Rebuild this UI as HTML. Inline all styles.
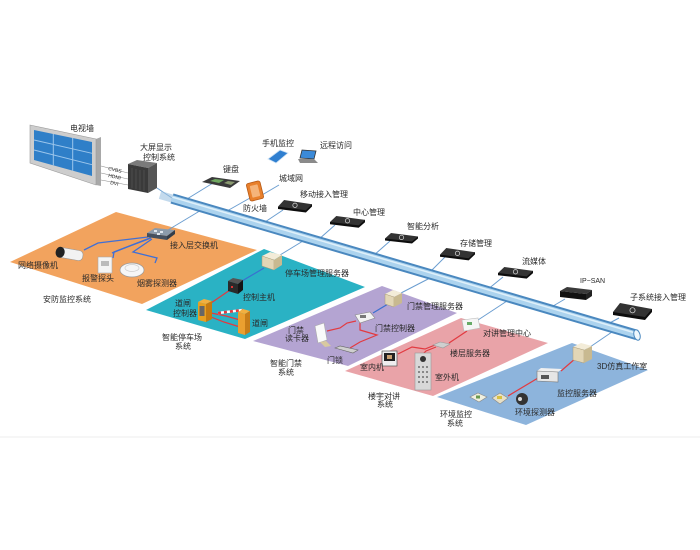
<!DOCTYPE html>
<html><head><meta charset="utf-8"><style>
html,body{margin:0;padding:0;background:#fff;}
svg{display:block;}
text{font-family:"Liberation Sans","Noto Sans CJK SC",sans-serif;font-size:8px;fill:#2a2a2a;}
</style></head><body>
<svg width="700" height="550" viewBox="0 0 700 550" xmlns="http://www.w3.org/2000/svg">
<rect width="700" height="550" fill="#fff"/>
<line x1="0" y1="437" x2="700" y2="437" stroke="#ececec" stroke-width="1"/>

<!-- regions -->
<polygon points="116,212 257,250 142,304 10,262" fill="#f2a35e"/>
<polygon points="264,249 365,287 245,339 146,310" fill="#2ab2c4"/>
<polygon points="382,286 457,313 348,366 253,341" fill="#b4a4d2"/>
<polygon points="461,318 548,343 433,396 345,371" fill="#e9a3a8"/>
<polygon points="572,343 648,370 526,425 437,397" fill="#8db4dc"/>

<!-- thin blue device lines -->
<g stroke="#6a9dd0" stroke-width="1" fill="none">
<line x1="213" y1="183" x2="187" y2="199"/>
<line x1="279" y1="185" x2="262" y2="195"/>
<line x1="250" y1="198" x2="227" y2="211"/>
<line x1="168" y1="230" x2="203" y2="209"/>
<line x1="283" y1="210" x2="262" y2="224"/>
<line x1="335" y1="225" x2="318" y2="240"/>
<line x1="390" y1="241" x2="373" y2="256"/>
<line x1="445" y1="257" x2="430" y2="272"/>
<line x1="503" y1="277" x2="487" y2="290"/>
<line x1="565" y1="299" x2="548" y2="309"/>
<line x1="619" y1="318" x2="604" y2="326"/>
<line x1="280" y1="255" x2="303" y2="241"/>
<line x1="401" y1="293" x2="430" y2="278"/>
<line x1="478" y1="320" x2="507" y2="301"/>
<line x1="590" y1="347" x2="612" y2="332"/>
<line x1="157" y1="188" x2="172" y2="198"/>
</g>

<!-- pipe -->
<line x1="172" y1="198.5" x2="637" y2="335" stroke="#4a88bf" stroke-width="10.5"/>
<line x1="172" y1="198.5" x2="637" y2="335" stroke="#acd3ee" stroke-width="6.5"/>
<line x1="172" y1="197" x2="637" y2="333.5" stroke="#dff0fa" stroke-width="1.5"/>
<ellipse cx="637" cy="335" rx="3" ry="5.4" transform="rotate(-16 637 335)" fill="#eef7fc" stroke="#4a88bf" stroke-width="1"/>
<line x1="160" y1="195" x2="172" y2="198.5" stroke="#9cc3e2" stroke-width="8" opacity="0.6"/>

<!-- TV wall -->
<polygon points="96,139 101,137 101,186 96,185" fill="#a8a8a8"/>
<polygon points="30,125 96,139 96,185 30,163" fill="#cdcdcd" stroke="#9a9a9a" stroke-width="0.6"/>
<polygon points="34,130 92,142 92,176 34,160" fill="#2f7fc8"/>
<g stroke="#9cc6ec" stroke-width="1">
<line x1="53.3" y1="134" x2="53.3" y2="165.3"/>
<line x1="72.7" y1="138" x2="72.7" y2="170.7"/>
<line x1="34" y1="140" x2="92" y2="153.3"/>
<line x1="34" y1="150" x2="92" y2="164.7"/>
</g>
<!-- video lines -->
<g stroke="#888" stroke-width="0.6">
<line x1="101" y1="166" x2="128" y2="173"/>
<line x1="101" y1="173" x2="128" y2="179"/>
<line x1="101" y1="180" x2="128" y2="185"/>
</g>
<text x="108" y="170" style="font-size:5px" transform="rotate(12 108 170)">CVBS</text>
<text x="108" y="177" style="font-size:5px" transform="rotate(12 108 177)">HDMI</text>
<text x="110" y="184" style="font-size:5px" transform="rotate(12 110 184)">DVI</text>
<!-- control box -->
<polygon points="128,164 137,160 157,163 148,168" fill="#7a7a7a"/>
<polygon points="128,164 148,168 148,193 128,189" fill="#3a3a3a"/>
<polygon points="148,168 157,163 157,188 148,193" fill="#555"/>
<g stroke="#5a5a5a" stroke-width="0.6">
<line x1="132" y1="168" x2="132" y2="188"/><line x1="136" y1="169" x2="136" y2="189"/><line x1="140" y1="170" x2="140" y2="190"/><line x1="144" y1="170" x2="144" y2="191"/>
</g>

<!-- keyboard -->
<polygon points="202,182 212,177 240,181 230,188" fill="#3a3a3a"/>
<polygon points="210,181 215,179 224,180 219,183" fill="#6fa860"/>
<polygon points="224,183 228,181 235,182 231,185" fill="#8a9a70"/>
<!-- firewall -->
<g transform="translate(255,191) rotate(-14)">
<rect x="-7" y="-9" width="14" height="18" rx="2" fill="#e8802c" stroke="#b85a16" stroke-width="0.8"/>
<rect x="-4" y="-6" width="8" height="12" rx="1" fill="#f5b47a"/>
</g>
<!-- phone / tablet -->
<polygon points="268,159 280,150 288,153 276,163" fill="#2f7fd0" stroke="#cfe3f5" stroke-width="0.8"/>
<!-- laptop -->
<polygon points="302,150 316,151 314,159 300,158" fill="#3b8ad8" stroke="#333" stroke-width="0.8"/>
<polygon points="298,159 314,159 318,163 300,163" fill="#8a8a8a"/>

<!-- dark network devices -->
<g>
<polygon points="278,209 305.9,212.5 312,206.5 312,204.2 278,206.6" fill="#0d0d0d"/>
<polygon points="278,206.6 284.1,200 312,204.2 305.9,210.2" fill="#333"/>
<circle cx="295" cy="205.3" r="2.2" fill="none" stroke="#ddd" stroke-width="0.7"/>

<polygon points="330,224.3 358.7,227.7 365,222.2 365,219.9 330,222" fill="#0d0d0d"/>
<polygon points="330,222 336.3,216 365,219.9 358.7,225.4" fill="#333"/>
<circle cx="347.5" cy="220.8" r="2.2" fill="none" stroke="#ddd" stroke-width="0.7"/>

<polygon points="385,240.5 412,243.5 418,238.5 418,236.5 385,238.5" fill="#0d0d0d"/>
<polygon points="385,238.5 391,233 418,236.5 412,241.5" fill="#333"/>
<circle cx="401.5" cy="237.4" r="2.2" fill="none" stroke="#ddd" stroke-width="0.7"/>

<polygon points="440,256.8 468.7,260.4 475,254.4 475,252.2 440,254.6" fill="#0d0d0d"/>
<polygon points="440,254.6 446.3,248 475,252.2 468.7,258.2" fill="#333"/>
<circle cx="457.5" cy="253.3" r="2.2" fill="none" stroke="#ddd" stroke-width="0.7"/>

<polygon points="498,275.2 526.7,278.6 533,273.1 533,270.9 498,273" fill="#0d0d0d"/>
<polygon points="498,273 504.3,267 533,270.9 526.7,276.4" fill="#333"/>
<circle cx="515.5" cy="271.8" r="2.2" fill="none" stroke="#ddd" stroke-width="0.7"/>

<polygon points="560,291 567,287 592,290 586,294" fill="#3a3a3a"/>
<polygon points="560,291 586,294 586,300 560,297" fill="#111"/>
<polygon points="586,294 592,290 592,296 586,300" fill="#222"/>

<polygon points="613,315 645,320 652,312 652,309 613,312" fill="#0d0d0d"/>
<polygon points="613,312 620,303 652,309 645,317" fill="#333"/>
<circle cx="632.5" cy="310.3" r="2.6" fill="none" stroke="#ddd" stroke-width="0.7"/>
</g>

<!-- orange subsystem -->
<g stroke="#3f6fd6" stroke-width="1.3" fill="none">
<polyline points="148,237 98,243 84,250"/>
<polyline points="150,238 114,252 113,258"/>
<polyline points="152,239 133,252 157,258 155,263"/>
<polyline points="151,238 122,249 112,253"/>
</g>
<polygon points="147,233 155,228 175,230 167,236" fill="#8c9bab"/>
<polygon points="147,233 167,236 167,240 147,237" fill="#445060"/>
<polygon points="167,236 175,230 175,234 167,240" fill="#333d4a"/>
<g fill="#dfe6ee"><rect x="154" y="230" width="3" height="2"/><rect x="160" y="231" width="3" height="2"/><rect x="157" y="233" width="3" height="2"/></g>
<g transform="translate(70,254) rotate(10)">
<rect x="-12" y="-5" width="25" height="10" rx="4" fill="#f2f2f2" stroke="#999" stroke-width="0.6"/>
<ellipse cx="-10" cy="0" rx="4.5" ry="5.5" fill="#222"/>
</g>
<rect x="98" y="257" width="14" height="16" fill="#f4f4f4" stroke="#aaa" stroke-width="0.6"/>
<rect x="101" y="261" width="8" height="5" fill="#bbb"/>
<ellipse cx="132" cy="270" rx="12" ry="7" fill="#f6f6f6" stroke="#999" stroke-width="0.7"/>
<ellipse cx="132" cy="268" rx="7" ry="3.5" fill="none" stroke="#ccc" stroke-width="0.7"/>

<!-- teal subsystem -->
<line x1="264" y1="268" x2="242" y2="281" stroke="#3a6fd0" stroke-width="1.2"/>
<g stroke="#e23a40" stroke-width="1.2" fill="none">
<line x1="230" y1="290" x2="211" y2="303"/>
<polyline points="211,313 226,316 240,320"/>
<polyline points="211,317 224,322 240,327"/>
</g>
<polygon points="262,256 270,252 282,255 274,260" fill="#f3ecd8"/>
<polygon points="262,256 274,260 274,270 262,266" fill="#e2d6b6" stroke="#a99a78" stroke-width="0.5"/>
<polygon points="274,260 282,255 282,265 274,270" fill="#c8b990"/>
<polygon points="228,281 233,278 243,280 238,284" fill="#555"/>
<polygon points="228,281 238,284 238,294 228,291" fill="#2a2a2a"/>
<polygon points="238,284 243,280 243,290 238,294" fill="#151515"/>
<rect x="231" y="286" width="2" height="2" fill="#d33"/>
<polygon points="198,302 204,299 212,301 206,304" fill="#f2b040"/>
<polygon points="198,302 206,304 206,322 198,320" fill="#e8a020"/>
<polygon points="206,304 212,301 212,319 206,322" fill="#c57a10"/>
<rect x="199.5" y="306" width="5" height="10" fill="#666"/>
<line x1="218" y1="313" x2="243" y2="310" stroke="#fff" stroke-width="2.6"/>
<line x1="218" y1="313" x2="243" y2="310" stroke="#e23a40" stroke-width="2.6" stroke-dasharray="3,3"/>
<polygon points="238,312 243,309 250,311 245,314" fill="#f2b040"/>
<polygon points="238,312 245,314 245,335 238,333" fill="#eaa030"/>
<polygon points="245,314 250,311 250,332 245,335" fill="#c77d18"/>

<!-- purple subsystem -->
<line x1="388" y1="304" x2="373" y2="313" stroke="#3a6fd0" stroke-width="1.2"/>
<g stroke="#e23a40" stroke-width="1.2" fill="none">
<polyline points="356,321 347,323 340,328 327,331"/>
<polyline points="360,323 360,330 377,335 360,342 350,348"/>
</g>
<polygon points="385,294 393,290 402,293 394,297" fill="#f3ecd8"/>
<polygon points="385,294 394,297 394,307 385,304" fill="#e2d6b6" stroke="#a99a78" stroke-width="0.5"/>
<polygon points="394,297 402,293 402,303 394,307" fill="#c8b990"/>
<polygon points="355,315 370,312 375,318 360,323" fill="#f2f2f2" stroke="#888" stroke-width="0.6"/>
<rect x="360" y="315" width="6" height="3" fill="#777"/>
<polygon points="315,326 324,323 327,340 318,343" fill="#fafafa" stroke="#aaa" stroke-width="0.6"/>
<polygon points="320,342 326,341 331,346 325,347" fill="#d8c9a0"/>
<polygon points="335,348 340,346 358,350 353,353" fill="#cfcfcf" stroke="#666" stroke-width="0.6"/>

<!-- pink subsystem -->
<g stroke="#e23a40" stroke-width="1.2" fill="none">
<line x1="467" y1="331" x2="449" y2="343"/>
<polyline points="435,345 425,349 412,347 398,354"/>
<polyline points="436,347 426,351 421,356"/>
</g>
<polygon points="462,320 478,318 480,328 464,331" fill="#f5f5f5" stroke="#bbb" stroke-width="0.6"/>
<rect x="467" y="322" width="5" height="3" fill="#6a6"/>
<polygon points="433,345 440,342 450,344 443,348" fill="#cfcfcf" stroke="#999" stroke-width="0.6"/>
<rect x="382" y="351" width="15" height="15" fill="#eee" stroke="#555" stroke-width="0.7"/>
<rect x="384" y="353" width="11" height="8" fill="#222"/>
<rect x="387" y="355" width="5" height="4" fill="#c9a070"/>
<rect x="415" y="353" width="16" height="37" fill="#d8d8d8" stroke="#999" stroke-width="0.6"/>
<circle cx="423" cy="359" r="3" fill="#333"/>
<g fill="#888">
<rect x="418" y="366" width="2" height="2"/><rect x="422" y="366" width="2" height="2"/><rect x="426" y="366" width="2" height="2"/>
<rect x="418" y="371" width="2" height="2"/><rect x="422" y="371" width="2" height="2"/><rect x="426" y="371" width="2" height="2"/>
<rect x="418" y="376" width="2" height="2"/><rect x="422" y="376" width="2" height="2"/><rect x="426" y="376" width="2" height="2"/>
<rect x="418" y="381" width="2" height="2"/><rect x="422" y="381" width="2" height="2"/><rect x="426" y="381" width="2" height="2"/>
</g>

<!-- blue subsystem -->
<g stroke="#e23a40" stroke-width="1.2" fill="none">
<line x1="576" y1="358" x2="561" y2="371"/>
<line x1="538" y1="378" x2="508" y2="396"/>
</g>
<polygon points="573,347 581,343 592,346 584,350" fill="#f3ecd8"/>
<polygon points="573,347 584,350 584,363 573,360" fill="#e2d6b6" stroke="#a99a78" stroke-width="0.5"/>
<polygon points="584,350 592,346 592,359 584,363" fill="#c8b990"/>
<polygon points="537,371 541,368 562,369 558,372" fill="#f0f0f0"/>
<polygon points="537,371 558,372 558,382 537,381" fill="#e6e6e6" stroke="#777" stroke-width="0.6"/>
<rect x="541" y="375" width="8" height="4" fill="#555"/>
<polygon points="470,397 478,393 487,397 479,402" fill="#f0f0e0" stroke="#888" stroke-width="0.6"/>
<rect x="476" y="395.5" width="4" height="3" fill="#6a9a50"/>
<polygon points="492,398 500,393 508,398 500,404" fill="#e6e0c8" stroke="#888" stroke-width="0.6"/>
<rect x="497" y="396" width="5" height="3" fill="#d8c040"/>
<circle cx="522" cy="399" r="6" fill="#333"/>
<circle cx="520" cy="399" r="2" fill="#ddd"/>

<!-- labels -->
<text x="70" y="131">电视墙</text>
<text x="140" y="150">大屏显示</text>
<text x="143" y="160">控制系统</text>
<text x="223" y="172">键盘</text>
<text x="262" y="146">手机监控</text>
<text x="320" y="148">远程访问</text>
<text x="279" y="181">城域网</text>
<text x="243" y="211">防火墙</text>
<text x="300" y="197">移动接入管理</text>
<text x="353" y="215">中心管理</text>
<text x="407" y="229">智能分析</text>
<text x="460" y="246">存储管理</text>
<text x="522" y="264">流媒体</text>
<text x="580" y="283" style="font-size:7px">IP−SAN</text>
<text x="630" y="300">子系统接入管理</text>
<text x="170" y="248">接入层交换机</text>
<text x="18" y="268">网络摄像机</text>
<text x="82" y="281">报警探头</text>
<text x="137" y="286">烟雾探测器</text>
<text x="43" y="302">安防监控系统</text>
<text x="285" y="276">停车场管理服务器</text>
<text x="243" y="300">控制主机</text>
<text x="175" y="306">道闸</text>
<text x="173" y="316">控制器</text>
<text x="252" y="326">道闸</text>
<text x="162" y="340">智能停车场</text>
<text x="175" y="349">系统</text>
<text x="407" y="309">门禁管理服务器</text>
<text x="375" y="331">门禁控制器</text>
<text x="288" y="333">门禁</text>
<text x="285" y="341">读卡器</text>
<text x="327" y="363">门锁</text>
<text x="270" y="366">智能门禁</text>
<text x="278" y="375">系统</text>
<text x="483" y="336">对讲管理中心</text>
<text x="450" y="356">楼层服务器</text>
<text x="360" y="370">室内机</text>
<text x="435" y="380">室外机</text>
<text x="368" y="399">楼宇对讲</text>
<text x="377" y="407">系统</text>
<text x="597" y="369">3D仿真工作室</text>
<text x="557" y="396">监控服务器</text>
<text x="515" y="415">环境探测器</text>
<text x="440" y="417">环境监控</text>
<text x="447" y="426">系统</text>
</svg>
</body></html>
